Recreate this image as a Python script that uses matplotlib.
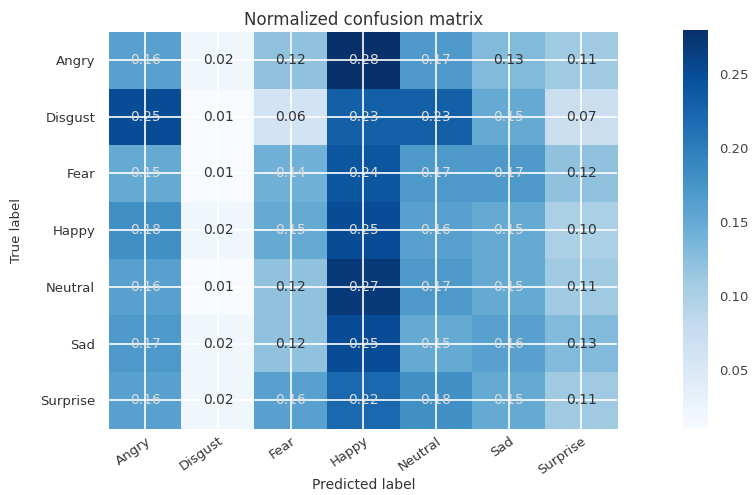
import numpy as np
import matplotlib
matplotlib.use("Agg")
import matplotlib.pyplot as plt

classes = ['Angry', 'Disgust', 'Fear', 'Happy', 'Neutral', 'Sad', 'Surprise']

row_angry = [0.16, 0.02, 0.12, 0.28, 0.17, 0.13, 0.11]
row_disgust = [0.25, 0.01, 0.06, 0.23, 0.23, 0.15, 0.07]
row_fear = [0.15, 0.01, 0.14, 0.24, 0.17, 0.17, 0.12]
row_happy = [0.18, 0.02, 0.15, 0.25, 0.16, 0.15, 0.10]
row_neutral = [0.16, 0.01, 0.12, 0.27, 0.17, 0.15, 0.11]
row_sad = [0.17, 0.02, 0.12, 0.25, 0.15, 0.16, 0.13]
row_surprise = [0.16, 0.02, 0.16, 0.22, 0.18, 0.15, 0.11]


def plot_confusion_matrix(cm, classes, title):
    plt.style.use('seaborn-v0_8-darkgrid')
    plt.rcParams['font.family'] = ['DejaVu Sans']
    fig = plt.figure(figsize=(7.53, 4.95), dpi=100)
    ax = fig.add_axes([0.145, 0.134, 0.675, 0.802])
    cax = fig.add_axes([0.907, 0.134, 0.033, 0.806])

    im = ax.imshow(cm, interpolation='nearest', cmap=plt.cm.Blues, aspect='auto',
                   vmin=0.01, vmax=0.28)
    ax.set_title(title, fontsize=12, color='#333333', pad=5)
    cb = fig.colorbar(im, cax=cax)
    cb.outline.set_visible(False)
    cb.ax.tick_params(labelsize=9.5, colors='#444444', length=0, pad=8)

    ticks = np.arange(len(classes))
    ax.set_xticks(ticks)
    ax.set_xticklabels(classes, rotation=35, ha='right', rotation_mode='anchor')
    ax.set_yticks(ticks)
    ax.set_yticklabels(classes)
    ax.tick_params(labelsize=9.5, colors='#333333', length=0)
    ax.tick_params(axis='y', pad=10)
    ax.tick_params(axis='x', pad=4)
    ax.grid(True, color='white', linewidth=1.2)

    thresh = 0.135
    for i in range(cm.shape[0]):
        for j in range(cm.shape[1]):
            ax.text(j, i, format(cm[i, j], '.2f'), ha='center', va='center',
                    fontsize=10,
                    color='#dddddd' if cm[i, j] > thresh else '#333333')

    ax.set_ylabel('True label', fontsize=9.5, color='#333333', labelpad=12)
    ax.set_xlabel('Predicted label', fontsize=10, color='#333333', labelpad=1)
    for s in ax.spines.values():
        s.set_visible(False)
    return fig


def main():
    cm = np.array([row_angry, row_disgust, row_fear, row_happy,
                   row_neutral, row_sad, row_surprise])
    fig = plot_confusion_matrix(cm, classes, 'Normalized confusion matrix')
    fig.savefig('out.png', dpi=100)


if __name__ == '__main__':
    main()
